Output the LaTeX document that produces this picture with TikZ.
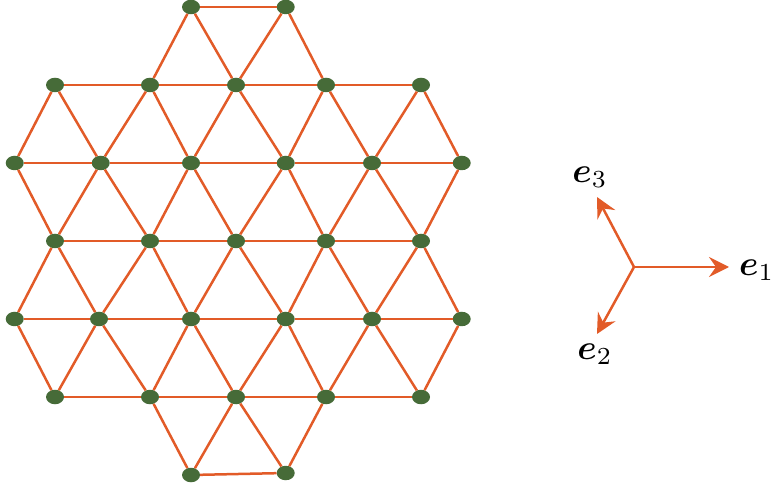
\documentclass[tikz,border=0pt]{standalone}
\usepackage{graphicx}
\usepackage{amsmath,bm}
\usetikzlibrary{shapes.geometric,arrows.meta}
\definecolor{edgeor}{HTML}{E25B28}
\definecolor{dotgr}{HTML}{466B38}
\newcommand{\biglbl}[1]{\scalebox{3.5}{#1}}
\begin{document}
\begin{tikzpicture}[x=1pt,y=-1pt,
  dot/.style={ellipse,fill=dotgr,draw=none,minimum width=18pt,minimum height=14.5pt,inner sep=0pt},
  edge/.style={draw=edgeor,line width=2.5pt},
  vec/.style={draw=edgeor,line width=2.5pt,-{Stealth[length=20pt,width=20pt,inset=7pt]}},
  lbl/.style={inner sep=0pt}]
\useasboundingbox (0,0) rectangle (774,486);
% nodes
\node[dot] (A1) at (191,7) {};
\node[dot] (A2) at (285.7,7) {};
\foreach \i/\x in {1/55,2/150,3/236,4/326,5/421}{
  \node[dot] (B\i) at (\x,85) {};
  \node[dot] (D\i) at (\x,241) {};
  \node[dot] (F\i) at (\x,397) {};
}
\foreach \i/\x in {1/14.7,2/100.7,3/191,4/285.7,5/372,6/461.7}{
  \node[dot] (C\i) at (\x,163) {};
}
\foreach \i/\x in {1/14.7,2/99,3/191,4/285.7,5/372,6/461.7}{
  \node[dot] (E\i) at (\x,319) {};
}
\node[dot] (G1) at (191,475) {};
\node[dot] (G2) at (285.7,473) {};
% edges
\foreach \a/\b in {A1/A2,A1/B2,A1/B3,A2/B3,A2/B4,
  B1/B2,B2/B3,B3/B4,B4/B5,
  B1/C1,B1/C2,B2/C2,B2/C3,B3/C3,B3/C4,B4/C4,B4/C5,B5/C5,B5/C6,
  C1/C2,C2/C3,C3/C4,C4/C5,C5/C6,
  C1/D1,C2/D1,C2/D2,C3/D2,C3/D3,C4/D3,C4/D4,C5/D4,C5/D5,C6/D5,
  D1/D2,D2/D3,D3/D4,D4/D5,
  D1/E1,D1/E2,D2/E2,D2/E3,D3/E3,D3/E4,D4/E4,D4/E5,D5/E5,D5/E6,
  E1/E2,E2/E3,E3/E4,E4/E5,E5/E6,
  E1/F1,E2/F1,E2/F2,E3/F2,E3/F3,E4/F3,E4/F4,E5/F4,E5/F5,E6/F5,
  F1/F2,F2/F3,F3/F4,F4/F5,
  F2/G1,F3/G1,F3/G2,F4/G2,G1/G2}{
  \path[edge] (\a) -- (\b);
}
% basis vectors
\coordinate (O) at (634,267);
\coordinate (T1) at (729,267);
\coordinate (T2) at (597,334);
\coordinate (T3) at (597,197);
\path[vec] (O) -- (T1);
\path[vec] (O) -- (T2);
\path[vec] (O) -- (T3);
\node[lbl,anchor=west] (L1) at (739,270) {\biglbl{$\bm{e}_1$}};
\node[lbl] (L2) at (595,354) {\biglbl{$\bm{e}_2$}};
\node[lbl] (L3) at (590,177) {\biglbl{$\bm{e}_3$}};
\end{tikzpicture}
\end{document}
